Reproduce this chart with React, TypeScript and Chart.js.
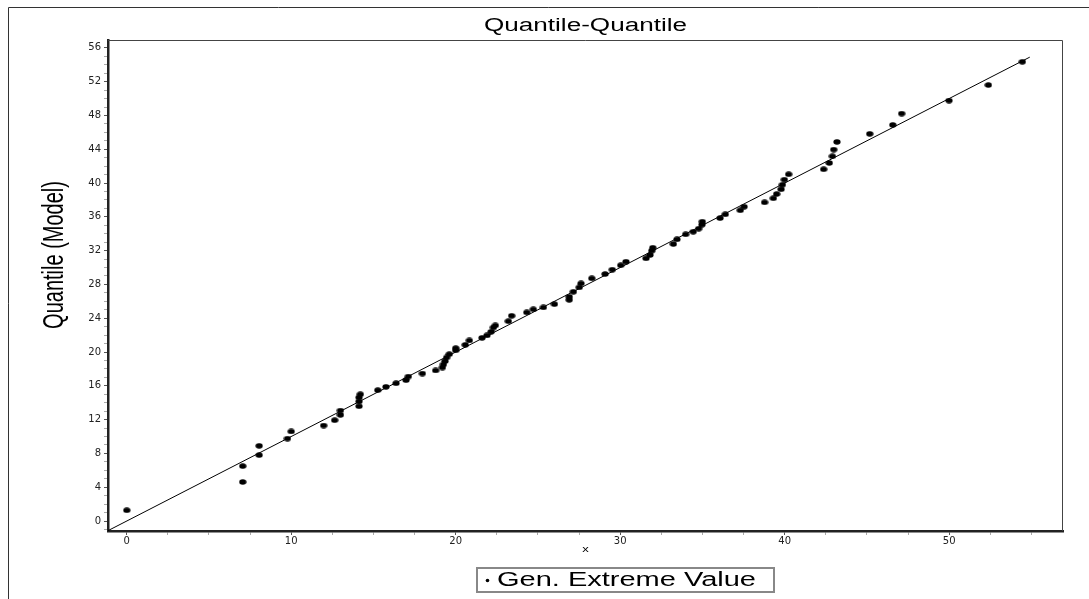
import React, { useEffect, useRef } from 'react';
import { Chart, registerables } from 'chart.js';

Chart.register(...registerables);

// ---- data ----
const sampleX = [
  0, 7.05, 7.05, 8.05, 8.05, 9.77, 10.0, 11.97, 12.64, 12.99, 12.99, 14.12, 14.12, 14.12, 14.2,
  15.26, 15.76, 16.37, 16.98, 17.12, 17.97, 18.78, 19.19, 19.25, 19.35, 19.45, 19.61, 20.0, 20.0,
  20.58, 20.83, 21.6, 21.9, 22.15, 22.29, 22.41, 23.2, 23.4, 24.32, 24.72, 25.33, 26.0, 26.9, 26.9,
  27.15, 27.51, 27.62, 28.27, 29.08, 29.52, 30.03, 30.35, 31.57, 31.81, 31.92, 31.98, 33.23, 33.45,
  33.98, 34.44, 34.77, 34.97, 34.99, 36.07, 36.39, 37.3, 37.53, 38.78, 39.31, 39.51, 39.78, 39.86,
  39.98, 40.24, 42.37, 42.71, 42.9, 42.98, 43.18, 45.17, 46.57, 47.11, 49.99, 52.38, 54.45,
];
const modelY = [
  1.27, 4.62, 6.5, 7.8, 8.9, 9.76, 10.6, 11.3, 11.93, 12.56, 13.08, 13.59, 14.15, 14.62, 15.0,
  15.49, 15.88, 16.3, 16.67, 17.1, 17.46, 17.82, 18.17, 18.53, 18.92, 19.36, 19.75, 20.2, 20.46,
  20.85, 21.37, 21.68, 21.97, 22.4, 22.9, 23.15, 23.65, 24.29, 24.69, 25.05, 25.28, 25.67, 26.18, 26.54,
  27.13, 27.65, 28.12, 28.72, 29.23, 29.75, 30.27, 30.69, 31.09, 31.48, 31.99, 32.35, 32.78, 33.34,
  33.93, 34.24, 34.6, 35.07, 35.43, 35.85, 36.3, 36.78, 37.2, 37.72, 38.2, 38.7, 39.26, 39.8,
  40.4, 41.04, 41.63, 42.38, 43.17, 43.96, 44.87, 45.82, 46.88, 48.22, 49.76, 51.6, 54.35,
];
const refLineX = [-1.15, 54.9];
const refLineY = [-1.15, 54.9];

const X_MIN = -1.14;
const X_MAX = 56.92;
const Y_MIN = -1.18;
const Y_MAX = 56.93;
const X_MINOR_STEP = 2.5;
const X_LABEL_EVERY = 10;
const Y_MINOR_STEP = 1;
const Y_LABEL_EVERY = 4;

const chartTitle = 'Quantile-Quantile';
const yAxisTitle = 'Quantile (Model)';
const xAxisTitle = 'x';
const seriesName = 'Gen. Extreme Value';

const W = 1089;
const H = 599;
const SX = 1.45; // horizontal stretch of the original's lettering

function stretchedText(
  ctx: CanvasRenderingContext2D,
  text: string,
  x: number,
  y: number,
  font: string,
  align: CanvasTextAlign,
  rotate = false,
) {
  ctx.save();
  ctx.translate(x, y);
  ctx.scale(SX, 1);
  if (rotate) ctx.rotate(-Math.PI / 2);
  ctx.font = font;
  ctx.textAlign = align;
  ctx.textBaseline = 'middle';
  ctx.fillStyle = '#000';
  ctx.fillText(text, 0, 0);
  ctx.restore();
}

const decorPlugin = {
  id: 'decor',
  afterDraw(chart: any) {
    const ctx: CanvasRenderingContext2D = chart.ctx;
    const a = chart.chartArea;
    ctx.save();
    // outer frame (top and left visible)
    ctx.strokeStyle = '#333';
    ctx.lineWidth = 1;
    ctx.beginPath();
    ctx.moveTo(8.5, H);
    ctx.lineTo(8.5, 7.5);
    ctx.lineTo(W, 7.5);
    ctx.stroke();
    // thin top / right border of plot area
    ctx.strokeStyle = '#444';
    ctx.beginPath();
    ctx.moveTo(a.left, a.top + 0.5);
    ctx.lineTo(a.right - 0.5, a.top + 0.5);
    ctx.lineTo(a.right - 0.5, a.bottom);
    ctx.stroke();
    ctx.restore();

    const family = '"Liberation Sans", Arial, sans-serif';
    stretchedText(ctx, chartTitle, (a.left + a.right) / 2, 26, `18px ${family}`, 'center');
    stretchedText(ctx, yAxisTitle, 55, 255, `20px ${family}`, 'center', true);
    stretchedText(ctx, xAxisTitle, (a.left + a.right) / 2, 550, `9px ${family}`, 'center');

    // legend box
    ctx.save();
    ctx.strokeStyle = '#888';
    ctx.lineWidth = 2;
    ctx.strokeRect(477, 568, 297, 24);
    ctx.fillStyle = '#000';
    ctx.beginPath();
    ctx.arc(487.5, 580.5, 1.8, 0, Math.PI * 2);
    ctx.fill();
    ctx.restore();
    stretchedText(ctx, seriesName, 497, 580.5, `20px ${family}`, 'left');
  },
};

export default function App() {
  const ref = useRef<HTMLCanvasElement | null>(null);

  useEffect(() => {
    const canvas = ref.current;
    if (!canvas) return;

    const dot = document.createElement('canvas');
    dot.width = 8;
    dot.height = 6;
    const dctx = dot.getContext('2d')!;
    dctx.fillStyle = '#000';
    dctx.beginPath();
    dctx.ellipse(4, 3, 3.6, 2.7, 0, 0, Math.PI * 2);
    dctx.fill();

    const points = sampleX.map((x, i) => ({ x, y: modelY[i] }));
    const line = refLineX.map((x, i) => ({ x, y: refLineY[i] }));

    const chart = new Chart(canvas, {
      type: 'scatter',
      data: {
        datasets: [
          {
            type: 'line',
            label: 'reference',
            data: line,
            borderColor: '#000',
            borderWidth: 1,
            pointRadius: 0,
            fill: false,
          } as any,
          {
            label: seriesName,
            data: points,
            pointStyle: dot as any,
            pointRadius: 3.5,
            backgroundColor: '#000',
            borderColor: '#000',
          },
        ],
      },
      options: {
        responsive: false,
        animation: false,
        devicePixelRatio: 1,
        layout: { padding: { left: 0, top: 40, right: 26, bottom: 0 } },
        plugins: {
          legend: { display: false },
          title: { display: false },
          tooltip: { enabled: false },
        },
        scales: {
          x: {
            type: 'linear',
            min: X_MIN,
            max: X_MAX,
            afterFit: (s: any) => {
              s.height = 68;
            },
            border: { display: true, color: '#222', width: 2.5 },
            grid: {
              drawOnChartArea: false,
              drawTicks: true,
              tickLength: 4,
              color: (c: any) =>
                Math.abs(c.tick.value % X_LABEL_EVERY) < 1e-6 ? '#555' : '#aaa',
            },
            ticks: {
              stepSize: X_MINOR_STEP,
              autoSkip: false,
              includeBounds: false,
              maxRotation: 0,
              padding: 0,
              color: '#222',
              font: { family: '"DejaVu Sans", sans-serif', size: 10 },
              callback: (v: any) =>
                Math.abs(Number(v) % X_LABEL_EVERY) < 1e-6 ? String(v) : '',
            },
          },
          y: {
            type: 'linear',
            min: Y_MIN,
            max: Y_MAX,
            afterFit: (s: any) => {
              s.width = 108;
            },
            border: { display: true, color: '#222', width: 2.5 },
            grid: {
              drawOnChartArea: false,
              drawTicks: true,
              tickLength: 4,
              color: (c: any) =>
                Math.abs(c.tick.value % Y_LABEL_EVERY) < 1e-6 ? '#555' : '#aaa',
            },
            ticks: {
              stepSize: Y_MINOR_STEP,
              autoSkip: false,
              includeBounds: false,
              padding: 3,
              color: '#222',
              font: { family: '"DejaVu Sans", sans-serif', size: 10 },
              callback: (v: any) =>
                Math.abs(Number(v) % Y_LABEL_EVERY) < 1e-6 ? String(v) : '',
            },
          },
        },
      },
      plugins: [decorPlugin],
    });

    return () => chart.destroy();
  }, []);

  return (
    <div style={{ position: 'absolute', left: 0, top: 0, width: W, height: H, background: '#fff' }}>
      <canvas ref={ref} width={W} height={H} style={{ display: 'block', width: W, height: H }} />
    </div>
  );
}
